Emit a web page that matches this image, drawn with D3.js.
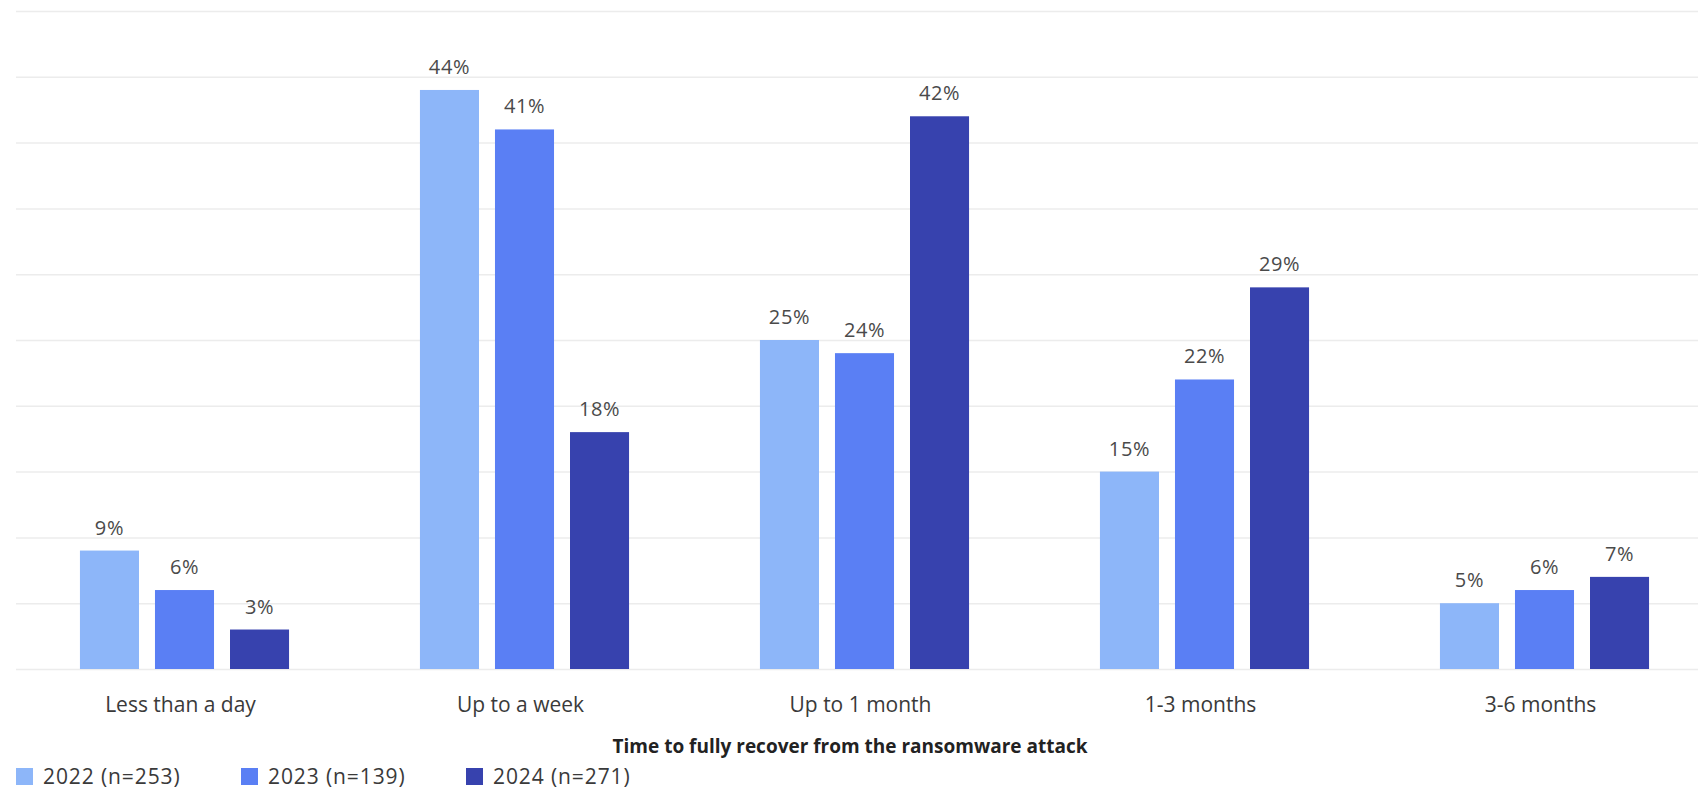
<!DOCTYPE html>
<html>
<head>
<meta charset="utf-8">
<script src="https://cdn.jsdelivr.net/npm/d3@7"></script>
<style>
  html, body { margin: 0; padding: 0; background: #ffffff; }
  svg { display: block; font-family: "Open Sans", Roboto, sans-serif; }
</style>
</head>
<body>
<svg id="chart" width="1698" height="790"></svg>
<script>
// Recovery time buckets and share of respondents per survey year
const categories = ["Less than a day", "Up to a week", "Up to 1 month", "1-3 months", "3-6 months"];
const seriesKeys = ["2022", "2023", "2024"];
const legendLabels = ["2022 (n=253)", "2023 (n=139)", "2024 (n=271)"];
const values2022 = [9, 44, 25, 15, 5];
const values2023 = [6, 41, 24, 22, 6];
const values2024 = [3, 18, 42, 29, 7];
const gridTicks = [0, 5, 10, 15, 20, 25, 30, 35, 40, 45, 50];
const axisTitle = "Time to fully recover from the ransomware attack";

const seriesValues = [values2022, values2023, values2024];
const colors = ["#8db6f9", "#5a7ff4", "#3742ae"];

const svg = d3.select("#chart");
const W = 1698;

const y = d3.scaleLinear().domain([0, 50]).range([669, 11]);

const x0 = d3.scaleBand()
  .domain(categories)
  .range([14.5, 1714.5])
  .paddingInner(0.385)
  .paddingOuter(0.1925);

const x1 = d3.scaleBand()
  .domain(seriesKeys)
  .range([0, x0.bandwidth()])
  .paddingInner(0.213);

// Horizontal grid lines
const grid = d3.axisLeft(y).tickValues(gridTicks).tickSize(-(W - 16)).tickFormat("");
svg.append("g")
  .attr("transform", "translate(16,0)")
  .call(grid)
  .call(g => g.select(".domain").remove())
  .call(g => g.selectAll(".tick line").attr("stroke", "#ececec").attr("stroke-width", 1.5));

// Bars
const rows = categories.map((c, i) => ({
  category: c,
  bars: seriesKeys.map((k, j) => ({ key: k, value: seriesValues[j][i], color: colors[j] }))
}));

const groups = svg.append("g").selectAll("g")
  .data(rows)
  .join("g")
  .attr("transform", d => `translate(${x0(d.category)},0)`);

groups.selectAll("rect")
  .data(d => d.bars)
  .join("rect")
  .attr("x", d => x1(d.key))
  .attr("width", x1.bandwidth())
  .attr("y", d => y(d.value))
  .attr("height", d => y(0) - y(d.value))
  .attr("fill", d => d.color);

groups.selectAll("text.value")
  .data(d => d.bars)
  .join("text")
  .attr("class", "value")
  .attr("x", d => x1(d.key) + x1.bandwidth() / 2)
  .attr("y", d => y(d.value) - 16)
  .attr("text-anchor", "middle")
  .attr("font-size", 20)
  .attr("letter-spacing", 0.6)
  .attr("fill", "#4a4a4a")
  .text(d => d.value + "%");

// Category axis labels
const xAxis = d3.axisBottom(x0).tickSize(0).tickPadding(0);
svg.append("g")
  .attr("transform", "translate(-4,669)")
  .call(xAxis)
  .call(g => g.select(".domain").remove())
  .call(g => g.selectAll(".tick text")
    .attr("y", 43)
    .attr("dy", 0)
    .attr("font-size", 21)
    .attr("font-family", "'Open Sans', sans-serif")
    .attr("fill", "#3a3a3a"));

// Axis title
svg.append("text")
  .attr("x", 850)
  .attr("y", 753)
  .attr("text-anchor", "middle")
  .attr("font-size", 19)
  .attr("font-weight", 700)
  .attr("fill", "#222")
  .text(axisTitle);

// Legend
const legendX = [16, 241, 466];
const legend = svg.append("g").selectAll("g")
  .data(legendLabels)
  .join("g")
  .attr("transform", (d, i) => `translate(${legendX[i]},768)`);
legend.append("rect")
  .attr("width", 17).attr("height", 17)
  .attr("fill", (d, i) => colors[i]);
legend.append("text")
  .attr("x", 27).attr("y", 16)
  .attr("font-size", 21)
  .attr("letter-spacing", 0.9)
  .attr("fill", "#3a3a3a")
  .text(d => d);
</script>
</body>
</html>
